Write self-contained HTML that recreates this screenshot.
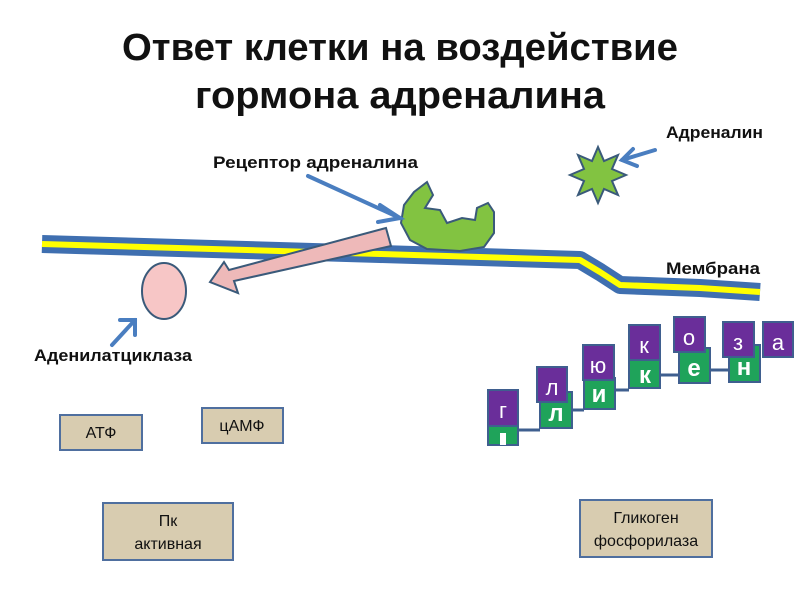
<!DOCTYPE html>
<html><head><meta charset="utf-8"><style>
body{margin:0;background:#fff;}
svg text{font-family:"Liberation Sans","DejaVu Sans",sans-serif;}
</style></head><body>
<svg width="800" height="600" viewBox="0 0 800 600" xmlns="http://www.w3.org/2000/svg">
<text x="400" y="60" text-anchor="middle" font-size="38" font-weight="bold" fill="#111" textLength="556" lengthAdjust="spacingAndGlyphs">Ответ клетки на воздействие</text>
<text x="400" y="108" text-anchor="middle" font-size="38" font-weight="bold" fill="#111" textLength="410" lengthAdjust="spacingAndGlyphs">гормона адреналина</text>
<!-- membrane -->
<path d="M42,244 L380,254 L580,260 L600,272 L620,285 L700,288 L760,292" fill="none" stroke="#3f6fb0" stroke-width="18" stroke-linejoin="round"/>
<path d="M42,244 L380,254 L580,260 L600,272 L620,285 L700,288 L760,292" fill="none" stroke="#ffff00" stroke-width="6" stroke-linejoin="round"/>
<!-- receptor -->
<polygon points="427,182 433,195 425,208 440,210 447,223 462,218 475,220 477,208 488,203 494,212 494,233 484,247 460,251 427,249 410,240 401,223 404,205 414,192" fill="#82c341" stroke="#3a5a7a" stroke-width="2"/>
<!-- star -->
<polygon fill="#82c341" stroke="#3a5a7a" stroke-width="2" points="598,147 604,161 618,155 612,169 626,175 612,181 618,195 604,189 598,203 592,189 578,195 584,181 570,175 584,169 578,155 592,161"/>
<!-- blue arrows -->
<g stroke="#4a7ec0" stroke-width="4" fill="none" stroke-linecap="round">
<line x1="308" y1="176" x2="400" y2="218"/><polyline points="380,205 400,218 378,222"/>
<line x1="655" y1="150" x2="622" y2="160"/><polyline points="633,149 622,160 637,166"/>
<line x1="112" y1="345" x2="135" y2="320"/><polyline points="120,320 135,320 135,335"/>
</g>
<!-- pink arrow -->
<polygon points="386,228 391,246 234,281 238,293 210,282 224,262 229,270" fill="#eeb9b9" stroke="#3a5a7a" stroke-width="2"/>
<ellipse cx="164" cy="291" rx="22" ry="28" fill="#f7c6c6" stroke="#3a5a7a" stroke-width="2"/>
<g font-size="17" font-weight="bold" fill="#111" lengthAdjust="spacingAndGlyphs">
<text x="213" y="168" textLength="205" lengthAdjust="spacingAndGlyphs">Рецептор адреналина</text>
<text x="666" y="138" textLength="97" lengthAdjust="spacingAndGlyphs">Адреналин</text>
<text x="666" y="274" textLength="94" lengthAdjust="spacingAndGlyphs">Мембрана</text>
<text x="34" y="361" textLength="158" lengthAdjust="spacingAndGlyphs">Аденилатциклаза</text>
</g>
<!-- boxes -->
<g fill="#d8ccb0" stroke="#4f6f9f" stroke-width="2">
<rect x="60" y="415" width="82" height="35"/>
<rect x="202" y="408" width="81" height="35"/>
<rect x="103" y="503" width="130" height="57"/>
<rect x="580" y="500" width="132" height="57"/>
</g>
<g font-size="16" fill="#111" text-anchor="middle">
<text x="101" y="438">АТФ</text>
<text x="242" y="431">цАМФ</text>
<text x="168" y="526">Пк</text><text x="168" y="549">активная</text>
<text x="646" y="523">Гликоген</text><text x="646" y="546">фосфорилаза</text>
</g>
<!-- glycogen chain -->
<g stroke="#3f5f8f" stroke-width="3">
<line x1="518" y1="430" x2="540" y2="430"/>
<line x1="572" y1="410" x2="584" y2="410"/>
<line x1="615" y1="390" x2="629" y2="390"/>
<line x1="660" y1="375" x2="679" y2="375"/>
<line x1="710" y1="370" x2="729" y2="370"/>
</g>
<g stroke="#3f5f8f" stroke-width="2" fill="#1fa35a">
<rect x="488" y="423" width="30" height="22"/>
<rect x="540" y="392" width="32" height="36"/>
<rect x="584" y="378" width="31" height="31"/>
<rect x="629" y="358" width="31" height="30"/>
<rect x="679" y="348" width="31" height="35"/>
<rect x="729" y="345" width="31" height="37"/>
</g>
<g stroke="#3f5f8f" stroke-width="2" fill="#6a2e9a">
<rect x="488" y="390" width="30" height="36"/>
<rect x="537" y="367" width="30" height="35"/>
<rect x="583" y="345" width="31" height="35"/>
<rect x="629" y="325" width="31" height="35"/>
<rect x="674" y="317" width="31" height="35"/>
<rect x="723" y="322" width="31" height="35"/>
<rect x="763" y="322" width="30" height="35"/>
</g>
<g fill="#fff" font-size="22" text-anchor="middle">
<text x="503" y="418">г</text>
<text x="552" y="395">л</text>
<text x="598" y="373">ю</text>
<text x="644" y="353">к</text>
<text x="689" y="345">о</text>
<text x="738" y="350">з</text>
<text x="778" y="350">а</text>
</g>
<g fill="#fff" font-size="24" font-weight="bold" text-anchor="middle">
<text x="556" y="421">л</text>
<text x="599" y="402">и</text>
<text x="645" y="383">к</text>
<text x="694" y="376">е</text>
<text x="744" y="375">н</text>
<rect x="500" y="433" width="6" height="12" fill="#fff"/>
</g>
</svg>
</body></html>
